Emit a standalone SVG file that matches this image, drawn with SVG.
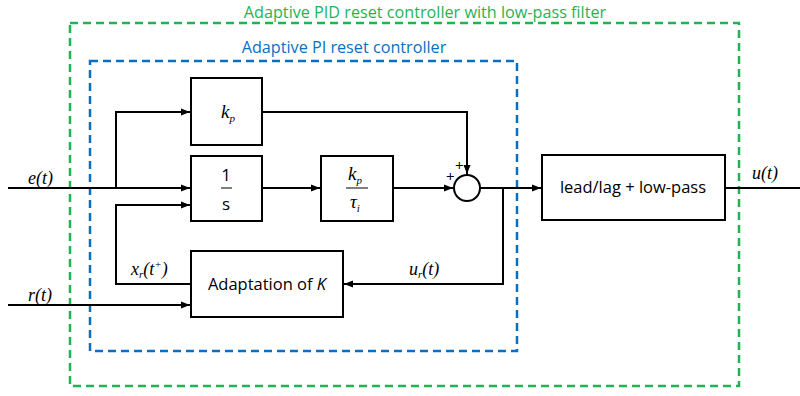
<svg xmlns="http://www.w3.org/2000/svg" width="800" height="396" viewBox="0 0 800 396">
<defs>
<style>
.blk{fill:#fff;stroke:#000;stroke-width:2}
.ln{fill:none;stroke:#000;stroke-width:2}
.sans{font-family:"Open Sans","Liberation Sans",sans-serif;font-size:16.5px;fill:#000}
.math{font-family:"Liberation Serif",serif;font-style:italic;font-size:18px;fill:#000}
.sub{font-size:11px}
.grn{fill:none;stroke:#1fb352;stroke-width:2.5;stroke-dasharray:8 5}
.blu{fill:none;stroke:#0a6fc2;stroke-width:2.5;stroke-dasharray:8 5}
.ttl{font-family:"Open Sans","Liberation Sans",sans-serif;font-size:16.2px}
</style>
<marker id="ar" markerWidth="10" markerHeight="8" refX="9" refY="4" orient="auto" markerUnits="userSpaceOnUse">
<path d="M0,0.5 L9,4 L0,7.5 Z" fill="#000"/>
</marker>
</defs>
<rect width="800" height="396" fill="#fff"/>
<g id="frames">
<rect class="grn" x="70" y="23" width="669" height="363"/>
<text class="ttl" x="425" y="17.5" text-anchor="middle" fill="#1fb352">Adaptive PID reset controller with low-pass filter</text>
<rect class="blu" x="90" y="61" width="427" height="290"/>
<text class="ttl" x="344" y="53" text-anchor="middle" fill="#0a6fc2">Adaptive PI reset controller</text>
</g>
<g id="connectors">
<path class="ln" d="M8,188 H190" marker-end="url(#ar)"/>
<path class="ln" d="M116,188 V112 H190" marker-end="url(#ar)"/>
<path class="ln" d="M191,284 H116 V205 H190" marker-end="url(#ar)"/>
<path class="ln" d="M8,305 H190" marker-end="url(#ar)"/>
<path class="ln" d="M262,112 H467 V174" marker-end="url(#ar)"/>
<path class="ln" d="M262,188 H320" marker-end="url(#ar)"/>
<path class="ln" d="M393,188 H453" marker-end="url(#ar)"/>
<path class="ln" d="M480,188 H541" marker-end="url(#ar)"/>
<path class="ln" d="M503,188 V284 H344" marker-end="url(#ar)"/>
<path class="ln" d="M725,188 H800"/>
</g>
<g id="kp">
<rect class="blk" x="191" y="78" width="71" height="67"/>
<text class="math" x="221" y="118" style="font-size:19px">k<tspan class="sub" dy="4">p</tspan></text>
</g>
<g id="integrator">
<rect class="blk" x="191" y="156" width="71" height="65"/>
<text class="sans" x="226" y="181" text-anchor="middle" style="font-size:17px">1</text>
<line x1="221" y1="188" x2="232" y2="188" stroke="#000" stroke-width="1"/>
<text class="sans" x="226" y="210" text-anchor="middle" style="font-size:17px">s</text>
</g>
<g id="kp_tau">
<rect class="blk" x="321" y="156" width="72" height="65"/>
<text class="math" x="348" y="180" style="font-size:19px">k<tspan class="sub" dy="4">p</tspan></text>
<line x1="346" y1="188" x2="368" y2="188" stroke="#000" stroke-width="1"/>
<text class="math" x="350" y="208" style="font-size:19px">τ<tspan class="sub" dy="4">i</tspan></text>
</g>
<g id="sum">
<circle cx="467" cy="188" r="13" fill="#fff" stroke="#000" stroke-width="2"/>
<text class="sans" x="446" y="182" style="font-size:15px">+</text>
<text class="sans" x="455" y="171" style="font-size:15px">+</text>
</g>
<g id="adaptation">
<rect class="blk" x="191" y="251" width="152" height="66"/>
<text class="sans" x="267" y="290" text-anchor="middle">Adaptation of <tspan font-style="italic">K</tspan></text>
</g>
<g id="leadlag">
<rect class="blk" x="542" y="155" width="183" height="65"/>
<text class="sans" x="633" y="193" text-anchor="middle">lead/lag + low-pass</text>
</g>
<g id="labels">
<text class="math" x="28" y="184">e(t)</text>
<text class="math" x="28" y="301">r(t)</text>
<text class="math" x="131" y="275">x<tspan class="sub" dy="3">r</tspan><tspan dy="-3">(t</tspan><tspan class="sub" dy="-7">+</tspan><tspan dy="7">)</tspan></text>
<text class="math" x="409" y="275">u<tspan class="sub" dy="3">r</tspan><tspan dy="-3">(t)</tspan></text>
<text class="math" x="752" y="179">u(t)</text>
</g>
</svg>
